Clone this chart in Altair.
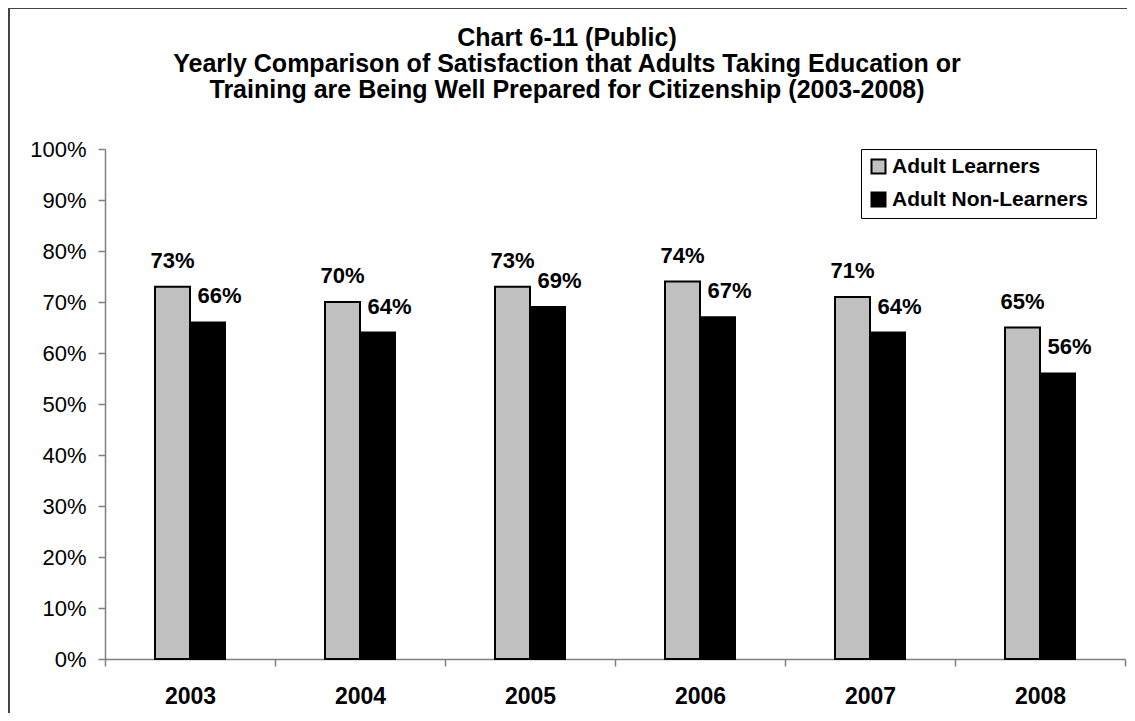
import altair as alt
import pandas as pd

years = ["2003", "2004", "2005", "2006", "2007", "2008"]
learners = [0.73, 0.70, 0.73, 0.74, 0.71, 0.65]
non_learners = [0.66, 0.64, 0.69, 0.67, 0.64, 0.56]
series = ["Adult Learners", "Adult Non-Learners"]
colors = ["#C0C0C0", "#000000"]
title_lines = [
    "Chart 6-11 (Public)",
    "Yearly Comparison of Satisfaction that Adults Taking Education or",
    "Training are Being Well Prepared for Citizenship (2003-2008)",
]

df_a = pd.DataFrame({"year": years, "series": series[0], "value": learners})
df_b = pd.DataFrame({"year": years, "series": series[1], "value": non_learners})

FONT = "Liberation Sans"
W, H = 1020, 510
BW = 35  # bar width in px

x_enc = alt.X("year:N", sort=years, title=None,
              scale=alt.Scale(paddingInner=0, paddingOuter=0),
              axis=alt.Axis(labelAngle=0, labelFont=FONT, labelFontSize=23,
                            labelFontWeight="bold", labelColor="black",
                            labelPadding=19, tickSize=7, tickBand="extent",
                            domainColor="#808080", tickColor="#808080",
                            domainWidth=1.5, tickWidth=1.5, grid=False))
y_enc = alt.Y("value:Q", title=None,
              scale=alt.Scale(domain=[0, 1], nice=False),
              axis=alt.Axis(values=[i / 10 for i in range(11)], format=".0%",
                            labelFont=FONT, labelFontSize=22, labelColor="black",
                            labelPadding=12, tickSize=7,
                            domainColor="#808080", tickColor="#808080",
                            domainWidth=1.5, tickWidth=1.5, grid=False))
fill_enc = alt.Fill("series:N", sort=series,
                    scale=alt.Scale(domain=series, range=colors),
                    legend=alt.Legend(title=None, orient="none", legendX=756, legendY=0,
                                      direction="vertical",
                                      labelFont=FONT, labelFontSize=21, labelFontWeight="bold",
                                      labelColor="black", labelLimit=400,
                                      symbolType="square",
                                      symbolSize=196, symbolStrokeColor="black",
                                      symbolStrokeWidth=2, symbolOpacity=1,
                                      rowPadding=10, labelOffset=3,
                                      padding=7, strokeColor="black",
                                      fillColor="white", cornerRadius=0))

bars_a = alt.Chart(df_a).mark_bar(stroke="black", strokeWidth=2, width=BW,
                                  xOffset=-BW / 2).encode(x=x_enc, y=y_enc, fill=fill_enc)
bars_b = alt.Chart(df_b).mark_bar(stroke="black", strokeWidth=2, width=BW,
                                  xOffset=BW / 2).encode(x=x_enc, y=y_enc, fill=fill_enc)

lab_a = alt.Chart(df_a).mark_text(
    font=FONT, fontSize=22, fontWeight="bold", color="black",
    baseline="middle", dy=-26, xOffset=-BW / 2).encode(
    x=alt.X("year:N", sort=years), y="value:Q",
    text=alt.Text("value:Q", format=".0%"))

lab_b = alt.Chart(df_b).mark_text(
    font=FONT, fontSize=22, fontWeight="bold", color="black",
    baseline="middle", dy=-26, xOffset=BW / 2 + 12).encode(
    x=alt.X("year:N", sort=years), y="value:Q",
    text=alt.Text("value:Q", format=".0%"))

border = alt.Chart(pd.DataFrame({"k": [0]})).mark_rect(
    fill=None, stroke="#444444", strokeWidth=2, clip=False).encode(
    x=alt.value(-96), x2=alt.value(W + 40),
    y=alt.value(-141), y2=alt.value(H + 100))

chart = alt.layer(border, bars_a, bars_b, lab_a, lab_b).properties(
    width=W, height=H,
    padding={"left": 97, "top": 141, "right": 2, "bottom": 54},
    autosize=alt.AutoSizeParams(type="none"),
    background="white",
    title=alt.TitleParams(text=title_lines, font=FONT, fontSize=25,
                          fontWeight="bold", color="black", lineHeight=26,
                          anchor="middle", dx=-48, dy=96, offset=0),
).configure_view(stroke=None)

chart.save("out.html", embed_options={"renderer": "svg", "actions": False})
